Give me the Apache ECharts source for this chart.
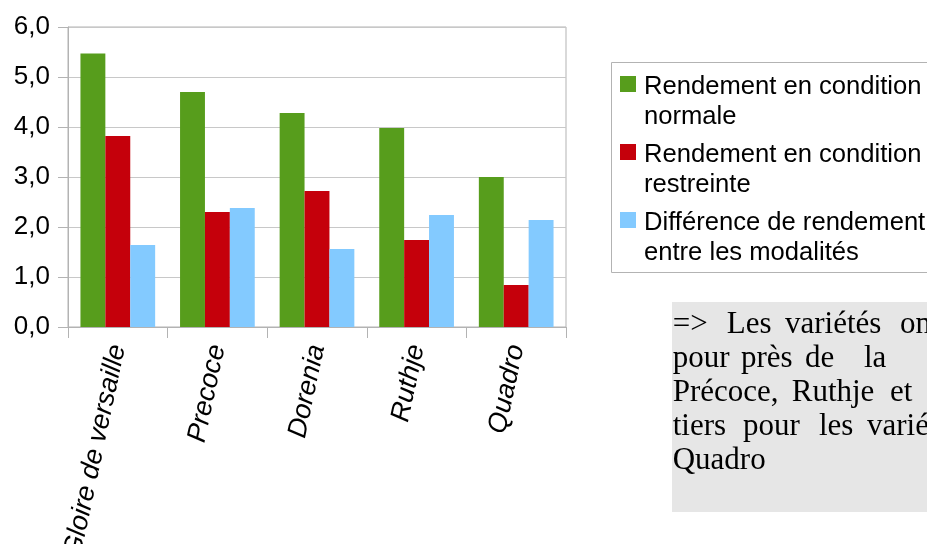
<!DOCTYPE html>
<html>
<head>
<meta charset="utf-8">
<script src="https://cdn.jsdelivr.net/npm/echarts@6/dist/echarts.min.js"></script>
<style>
  html, body { margin: 0; padding: 0; background: #ffffff; }
  #chart { width: 927px; height: 544px; }
</style>
</head>
<body>
<div id="chart"></div>
<script>
// Varieties and yields (t/ha) in the two growing conditions
const categories = ['Gloire de versaille', 'Precoce', 'Dorenia', 'Ruthje', 'Quadro'];
const normale = [5.47, 4.70, 4.28, 3.98, 3.00];
const restreinte = [3.82, 2.30, 2.72, 1.74, 0.84];
const difference = [1.64, 2.38, 1.56, 2.24, 2.14];
const seriesNames = [
  'Rendement en condition normale',
  'Rendement en condition restreinte',
  'Différence de rendement entre les modalités'
];
const legendLines = [
  ['Rendement en condition', 'normale'],
  ['Rendement en condition', 'restreinte'],
  ['Différence de rendement', 'entre les modalités']
];
const yTicks = [0, 1, 2, 3, 4, 5, 6];
const noteWords = [
  ['=>', 'Les', 'variétés', 'on'],
  ['pour', 'près', 'de', 'la'],
  ['Précoce,', 'Ruthje', 'et'],
  ['tiers', 'pour', 'les', 'varié'],
  ['Quadro']
];

const colors = ['#579d1c', '#c5000b', '#83caff'];
const values = [normale, restreinte, difference];

const chart = echarts.init(document.getElementById('chart'), null, { renderer: 'canvas' });

// Legend drawn as a framed box with two-line labels
const legendGraphic = [{
  type: 'rect',
  shape: { x: 611.5, y: 62.5, width: 420, height: 210 },
  style: { fill: '#ffffff', stroke: '#b3b3b3', lineWidth: 1 }
}];
legendLines.forEach((lines, i) => {
  const top = 76 + i * 68;
  legendGraphic.push({
    type: 'rect',
    shape: { x: 620, y: top, width: 16, height: 16 },
    style: { fill: colors[i] }
  });
  legendGraphic.push({
    type: 'text',
    x: 644, y: top - 4,
    style: {
      text: lines.join('\n'),
      font: '25.6px "Liberation Sans", Arial, sans-serif',
      fill: '#000000',
      lineHeight: 30,
      verticalAlign: 'top'
    }
  });
});

// Comment box with justified serif text (cut by the page edge)
const noteFont = 31;
const wordX = [
  [672.7, 726.7, 785, 900],
  [672.7, 741, 805, 864],
  [672.7, 791.7, 890],
  [672.7, 743, 819, 867],
  [672.7]
];
const noteGraphic = [{
  type: 'rect',
  shape: { x: 672, y: 302, width: 300, height: 210 },
  style: { fill: '#e6e6e6' }
}];
noteWords.forEach((words, li) => {
  words.forEach((w, wi) => {
    noteGraphic.push({
      type: 'text',
      x: wordX[li][wi],
      y: 335 + li * 34 - 0.83 * noteFont,
      style: {
        text: w,
        font: noteFont + 'px "Liberation Serif", "Times New Roman", serif',
        fill: '#000000',
        verticalAlign: 'top'
      }
    });
  });
});

chart.setOption({
  animation: false,
  backgroundColor: '#ffffff',
  grid: {
    left: 68, right: 361, top: 27, bottom: 217,
    show: true, borderColor: '#b3b3b3', borderWidth: 1,
    containLabel: false,
    outerBoundsMode: 'none'
  },
  xAxis: {
    type: 'category',
    data: categories,
    axisLine: { show: true, lineStyle: { color: '#b3b3b3', width: 1 } },
    axisTick: { show: true, length: 11, lineStyle: { color: '#b3b3b3' } },
    axisLabel: {
      rotate: 78,
      margin: 18,
      interval: 0,
      fontFamily: '"Liberation Sans", Arial, sans-serif',
      fontStyle: 'italic',
      fontSize: 27,
      color: '#000000'
    },
    splitLine: { show: false }
  },
  yAxis: {
    type: 'value',
    min: yTicks[0],
    max: yTicks[yTicks.length - 1],
    interval: 1,
    axisLine: { show: true, lineStyle: { color: '#b3b3b3', width: 1 } },
    axisTick: { show: true, length: 10, lineStyle: { color: '#b3b3b3' } },
    axisLabel: {
      margin: 18,
      fontFamily: '"Liberation Sans", Arial, sans-serif',
      fontSize: 26,
      color: '#000000',
      formatter: v => v.toFixed(1).replace('.', ',')
    },
    splitLine: { show: true, lineStyle: { color: '#c8c8c8', width: 1 } }
  },
  series: values.map((vals, i) => ({
    name: seriesNames[i],
    type: 'bar',
    data: vals,
    barGap: '0%',
    barCategoryGap: '25%',
    itemStyle: { color: colors[i] }
  })),
  graphic: legendGraphic.concat(noteGraphic)
});
</script>
</body>
</html>
